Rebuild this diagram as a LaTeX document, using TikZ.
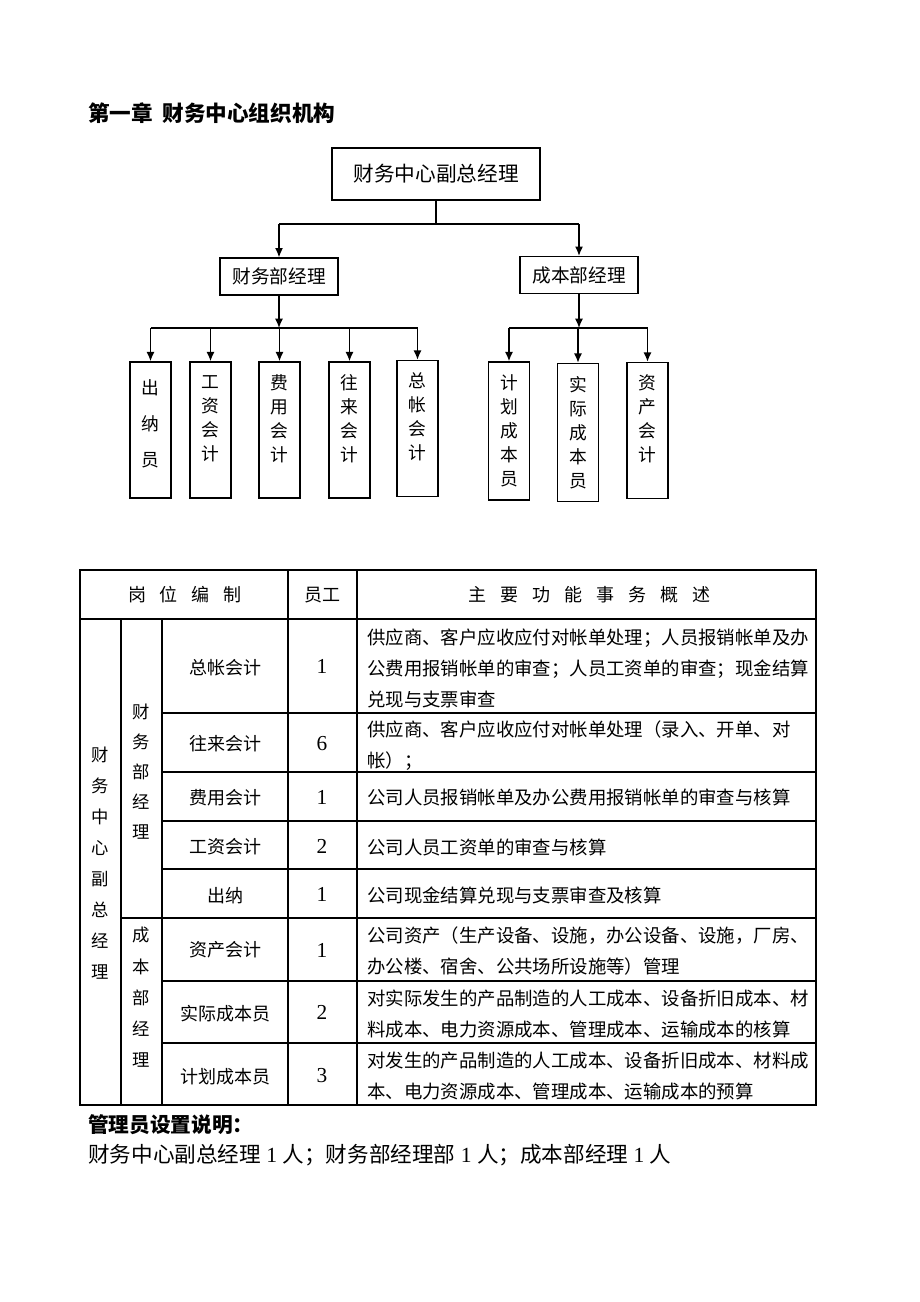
\documentclass[tikz,border=0pt]{standalone}
\usepackage{fontspec}
\setmainfont{Liberation Serif}
\newfontfamily\cjk{Noto Sans CJK SC}
\usepackage{tikz}
\usetikzlibrary{arrows.meta, positioning}
\tikzstyle{link} = [line width=1.1pt]
\tikzstyle{arrow} = [line width=1.1pt,->,>={Latex[length=7pt,width=6pt]}]
\tikzstyle{chartbox} = [draw, line width=1.1pt, inner sep=0pt]
\tikzstyle{mgr} = [chartbox, minimum width=88.5pt, minimum height=27.5pt, font=\cjk\fontsize{14}{16}\selectfont]
\tikzstyle{staff} = [chartbox, minimum width=30.75pt, minimum height=102pt]
\tikzstyle{vtext} = [inner sep=0pt, align=center, font=\cjk\fontsize{13.3}{18}\selectfont]
\tikzstyle{tline} = [line width=0.8pt]
\tikzstyle{cell} = [inner sep=0pt, font=\cjk\fontsize{13.5}{18}\selectfont]
\tikzstyle{desc} = [inner sep=0pt, anchor=west, align=left, font=\cjk\fontsize{13.8}{23.25}\selectfont]
\tikzstyle{num} = [inner sep=0pt, font=\fontsize{16}{18}\selectfont]
\newcommand{\hgap}{\hspace{10.5pt}}

\begin{document}
\begin{tikzpicture}[x=0.75pt, y=-0.75pt]
	\useasboundingbox (0,0) rectangle (920,1302);
	\node[anchor=west, inner sep=0pt, font=\cjk\bfseries\fontsize{16.2}{18}\selectfont] (title) at (88,113) {第一章\hspace{7pt}财务中心组织机构};

	% organisation chart
	\node[chartbox, minimum width=156pt, minimum height=39pt, font=\cjk\fontsize{15.5}{18}\selectfont] (vp) at (436,174) {财务中心副总经理};
	\node[mgr] (finmgr) at (279,276.5) {财务部经理};
	\node[mgr] (costmgr) at (579,275) {成本部经理};
	\coordinate (lvl0) at (436,224);
	\coordinate (lvl1) at (0,328);
	\draw[link] (vp) -- (lvl0);
	\draw[link] (finmgr.north |- lvl0) -- (costmgr.north |- lvl0);
	\draw[arrow] (finmgr.north |- lvl0) -- (finmgr);
	\draw[arrow] (costmgr.north |- lvl0) -- (costmgr);

	\node[staff] (cn) at (150.5,430) {};
	\node[staff] (gz) at (210.5,430) {};
	\node[staff] (fy) at (279.5,430) {};
	\node[staff] (wl) at (349.5,430) {};
	\node[staff] (zz) at (417.5,428.5) {};
	\node[staff, minimum height=103.5pt] (jh) at (509,431) {};
	\node[staff, minimum height=103.5pt] (sj) at (578,432.5) {};
	\node[staff] (zc) at (647.5,430.5) {};

	\node[vtext, font=\cjk\fontsize{13.3}{27}\selectfont] (cn-t) at (150.5,424) {出\\纳\\员};
	\node[vtext] (gz-t) at (210.5,418.5) {工\\资\\会\\计};
	\node[vtext] (fy-t) at (279.5,418.5) {费\\用\\会\\计};
	\node[vtext] (wl-t) at (349.5,418.5) {往\\来\\会\\计};
	\node[vtext] (zz-t) at (417.5,416.5) {总\\帐\\会\\计};
	\node[vtext] (jh-t) at (509,431) {计\\划\\成\\本\\员};
	\node[vtext] (sj-t) at (578,432.5) {实\\际\\成\\本\\员};
	\node[vtext] (zc-t) at (647.5,419) {资\\产\\会\\计};

	\draw[arrow] (finmgr) -- (finmgr.south |- lvl1);
	\draw[link] (cn.north |- lvl1) -- (zz.north |- lvl1);
	\foreach \n in {cn,gz,fy,wl,zz}
		\draw[arrow] (\n.north |- lvl1) -- (\n);
	\draw[arrow] (costmgr) -- (costmgr.south |- lvl1);
	\draw[link] (jh.north |- lvl1) -- (zc.north |- lvl1);
	\foreach \n in {jh,sj,zc}
		\draw[arrow] (\n.north |- lvl1) -- (\n);

	% staffing table
	\draw[tline] (80,570) rectangle (816,1105);
	\draw[tline] (80,619) -- (816,619);
	\foreach \x in {121,162}
		\draw[tline] (\x,619) -- (\x,1105);
	\foreach \x in {288,357}
		\draw[tline] (\x,570) -- (\x,1105);
	\foreach \y in {713,772,821,869,981,1043}
		\draw[tline] (162,\y) -- (816,\y);
	\draw[tline] (121,918) -- (816,918);

	\node[cell] (h-post) at (185,595) {岗\hgap 位\hgap 编\hgap 制};
	\node[cell] (h-staff) at (322,595) {员工};
	\node[cell] (h-duty) at (589.5,595) {主\hgap 要\hgap 功\hgap 能\hgap 事\hgap 务\hgap 概\hgap 述};

	\node[cell, align=center, font=\cjk\fontsize{13}{23.25}\selectfont] (c-vp) at (100,863.5) {财\\务\\中\\心\\副\\总\\经\\理};
	\node[cell, align=center, font=\cjk\fontsize{13}{22.5}\selectfont] (c-fin) at (141,772) {财\\务\\部\\经\\理};
	\node[cell, align=center, font=\cjk\fontsize{13}{23.4}\selectfont] (c-cost) at (141,997.5) {成\\本\\部\\经\\理};

	\node[cell] (r1) at (225,668) {总帐会计};
	\node[num] (n1) at (322,666) {1};
	\node[desc] (d1) at (367,668) {供应商、客户应收应付对帐单处理；人员报销帐单及办\\公费用报销帐单的审查；人员工资单的审查；现金结算\\兑现与支票审查};
	\node[cell] (r2) at (225,744) {往来会计};
	\node[num] (n2) at (322,744) {6};
	\node[desc] (d2) at (367,746) {供应商、客户应收应付对帐单处理（录入、开单、对\\帐）；};
	\node[cell] (r3) at (225,798) {费用会计};
	\node[num] (n3) at (322,797) {1};
	\node[desc] (d3) at (367,797) {公司人员报销帐单及办公费用报销帐单的审查与核算};
	\node[cell] (r4) at (225,847) {工资会计};
	\node[num] (n4) at (322,846) {2};
	\node[desc] (d4) at (367,847) {公司人员工资单的审查与核算};
	\node[cell] (r5) at (225,896) {出纳};
	\node[num] (n5) at (322,894) {1};
	\node[desc] (d5) at (367,895) {公司现金结算兑现与支票审查及核算};
	\node[cell] (r6) at (225,950) {资产会计};
	\node[num] (n6) at (322,950) {1};
	\node[desc] (d6) at (367,950.5) {公司资产（生产设备、设施，办公设备、设施，厂房、\\办公楼、宿舍、公共场所设施等）管理};
	\node[cell] (r7) at (225,1014) {实际成本员};
	\node[num] (n7) at (322,1012) {2};
	\node[desc] (d7) at (367,1013.5) {对实际发生的产品制造的人工成本、设备折旧成本、材\\料成本、电力资源成本、管理成本、运输成本的核算};
	\node[cell] (r8) at (225,1077) {计划成本员};
	\node[num] (n8) at (322,1076) {3};
	\node[desc] (d8) at (367,1076) {对发生的产品制造的人工成本、设备折旧成本、材料成\\本、电力资源成本、管理成本、运输成本的预算};

	% notes below the table
	\node[anchor=west, inner sep=0pt, font=\cjk\bfseries\fontsize{15.5}{18}\selectfont] (note) at (88,1125) {管理员设置说明：};
	\node[anchor=west, inner sep=0pt, font=\fontsize{16.2}{18}\selectfont] (note-t) at (88,1155) {{\cjk 财务中心副总经理} 1 {\cjk 人；财务部经理部} 1 {\cjk 人；成本部经理} 1 {\cjk 人}};
\end{tikzpicture}
\end{document}
